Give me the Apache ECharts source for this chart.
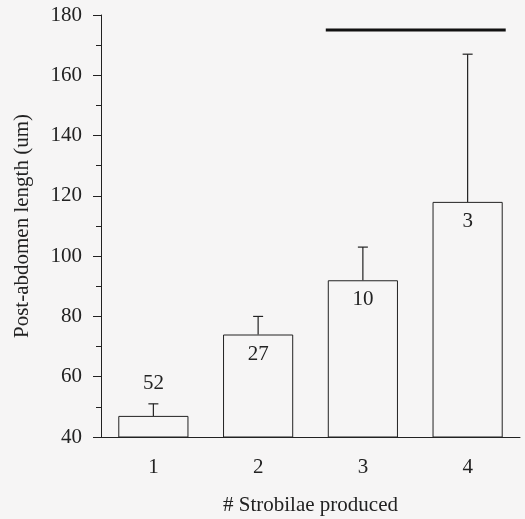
<!DOCTYPE html>
<html>
<head>
<meta charset="utf-8">
<script src="https://cdn.jsdelivr.net/npm/echarts@6/dist/echarts.min.js"></script>
<style>
  html, body { margin: 0; padding: 0; background: #f6f5f5; }
  #main { width: 525px; height: 519px; }
</style>
</head>
<body>
<div id="main"></div>
<script>
var categories = ['1', '2', '3', '4'];
var means = [47, 74, 92, 118];
var errTops = [51, 80, 103, 167];
var nCounts = ['52', '27', '10', '3'];
var sigLine = [2, 3, 175]; // from category index 2 to 3, at y = 175

var font = 'Liberation Serif';
var myChart = echarts.init(document.getElementById('main'));

var barData = means.map(function (v, i) {
  var item = { value: v, label: { show: true, formatter: nCounts[i], position: 'insideTop', distance: 9 } };
  if (i === 0) {
    item.label.position = 'top';
    item.label.distance = 22;
  }
  return item;
});

var option = {
  backgroundColor: '#f6f5f5',
  animation: false,
  grid: { left: 101, right: 5, top: 15, bottom: 82, outerBoundsMode: 'none', containLabel: false },
  xAxis: {
    type: 'category',
    data: categories,
    name: '# Strobilae produced',
    nameLocation: 'middle',
    nameGap: 58,
    nameTextStyle: { fontFamily: font, fontSize: 21, color: '#222' },
    axisLine: { lineStyle: { color: '#222', width: 1 } },
    axisTick: { alignWithLabel: true, length: 7, lineStyle: { color: '#222' } },
    axisLabel: { fontFamily: font, fontSize: 21, color: '#222', margin: 20 }
  },
  yAxis: {
    type: 'value',
    min: 40,
    max: 180,
    interval: 20,
    name: 'Post-abdomen length (um)',
    nameLocation: 'middle',
    nameGap: 68,
    nameTextStyle: { fontFamily: font, fontSize: 21, color: '#222' },
    axisLine: { show: true, lineStyle: { color: '#222', width: 1 } },
    axisTick: { show: true, length: 8, lineStyle: { color: '#222' } },
    minorTick: { show: true, splitNumber: 2, length: 5, lineStyle: { color: '#222' } },
    splitLine: { show: false },
    axisLabel: { fontFamily: font, fontSize: 21, color: '#222', margin: 19 }
  },
  series: [
    {
      type: 'bar',
      data: barData,
      barWidth: '67%',
      itemStyle: { color: '#f6f5f5', borderColor: '#222', borderWidth: 1 },
      label: { fontFamily: font, fontSize: 21, color: '#222' },
      z: 2
    },
    {
      // error bars: stem from bar top, cap at top only
      type: 'custom',
      data: means.map(function (v, i) { return [i, v, errTops[i]]; }),
      renderItem: function (params, api) {
        var base = api.coord([api.value(0), api.value(1)]);
        var top = api.coord([api.value(0), api.value(2)]);
        var capHalf = 5;
        return {
          type: 'group',
          children: [
            { type: 'line', shape: { x1: base[0], y1: base[1], x2: top[0], y2: top[1] }, style: { stroke: '#222', lineWidth: 1.2 } },
            { type: 'line', shape: { x1: top[0] - capHalf, y1: top[1], x2: top[0] + capHalf, y2: top[1] }, style: { stroke: '#222', lineWidth: 1.2 } }
          ]
        };
      },
      z: 3
    },
    {
      // significance bar spanning categories
      type: 'custom',
      data: [sigLine],
      renderItem: function (params, api) {
        var a = api.coord([api.value(0), api.value(2)]);
        var b = api.coord([api.value(1), api.value(2)]);
        var half = api.size([1, 0])[0] * 0.67 / 2;
        return {
          type: 'line',
          shape: { x1: a[0] - half - 2, y1: a[1], x2: b[0] + half + 3, y2: b[1] },
          style: { stroke: '#111', lineWidth: 3 }
        };
      },
      z: 3
    }
  ]
};
myChart.setOption(option);
</script>
</body>
</html>
